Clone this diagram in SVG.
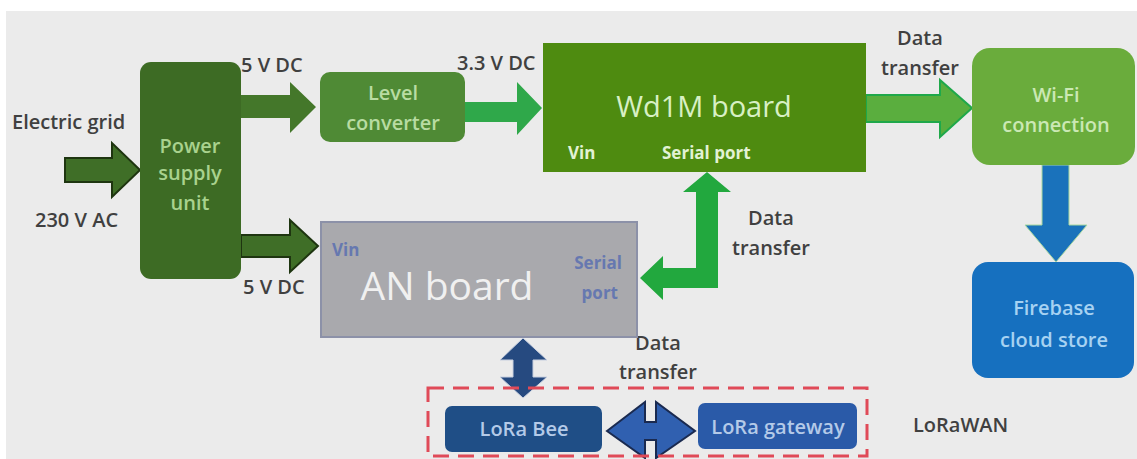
<svg xmlns="http://www.w3.org/2000/svg" width="1137" height="459" viewBox="0 0 1137 459">
  <style>
    text { font-family: "Open Sans", "Noto Sans", "DejaVu Sans", sans-serif; }
    .lbl { font-size: 20px; font-weight: 600; fill: #404040; }
    .node-txt { font-size: 20px; font-weight: 600; text-anchor: middle; }
    .port { font-size: 17px; font-weight: bold; }
  </style>
  <rect x="0" y="0" width="1137" height="459" fill="#ffffff"/>
  <rect x="6" y="11" width="1131" height="448" fill="#ebebeb"/>

  <!-- connectors -->
  <g id="connectors">
    <polygon points="65,158 112,158 112,143 140,170 112,197 112,182 65,182" fill="#3f6e27" stroke="#1e3510" stroke-width="2"/>
    <polygon points="241,95 290,95 290,82 316,107 290,133 290,118 241,118" fill="#44772a"/>
    <polygon points="241,235 290,235 290,220 318,246 290,272 290,257 241,257" fill="#3f6e27" stroke="#1e3510" stroke-width="2"/>
    <polygon points="465,102 517,102 517,82 542,108 517,135 517,122 465,122" fill="#2fa84a"/>
    <polygon points="866,95 940,95 940,80 972,108 940,137 940,122 866,122" fill="#5aae3e" stroke="#1fa84a" stroke-width="2"/>
    <polygon points="1042,165 1069,165 1069,225 1087,225 1056,262 1025,225 1042,225" fill="#1a72bb" stroke="#a8d8a0" stroke-width="1"/>
    <polygon points="707,172 731,192 718,192 718,288 663,288 663,300 640,278 663,256 663,268 696,268 696,192 683,192" fill="#22a83e"/>
    <polygon points="523,338 547,360 533,360 533,377 547,377 523,398 500,377 513,377 513,360 500,360" fill="#264a80" stroke="#c8d0e0" stroke-width="1"/>
    <polygon points="607,431 645,402 645,422 656,422 656,402 695,431 656,458 656,440 645,440 645,458" fill="#3060b0" stroke="#1a2a50" stroke-width="2"/>
  </g>

  <!-- labels -->
  <text class="lbl" x="12" y="129">Electric grid</text>
  <text class="lbl" x="35" y="227">230 V AC</text>
  <text class="lbl" x="241" y="72">5 V DC</text>
  <text class="lbl" x="243" y="294">5 V DC</text>
  <text class="lbl" x="457" y="70">3.3 V DC</text>
  <text class="lbl" x="920" y="45" text-anchor="middle">Data</text>
  <text class="lbl" x="920" y="75" text-anchor="middle">transfer</text>
  <text class="lbl" x="771" y="225" text-anchor="middle">Data</text>
  <text class="lbl" x="771" y="255" text-anchor="middle">transfer</text>
  <text class="lbl" x="658" y="350" text-anchor="middle">Data</text>
  <text class="lbl" x="658" y="379" text-anchor="middle">transfer</text>
  <text class="lbl" x="913" y="432">LoRaWAN</text>

  <g id="psu">
    <rect x="140" y="62" width="101" height="217" rx="11" fill="#3d6b24"/>
    <text class="node-txt" x="190" y="153" fill="#a9d28e">Power</text>
    <text class="node-txt" x="190" y="180" fill="#a9d28e">supply</text>
    <text class="node-txt" x="190" y="210" fill="#a9d28e">unit</text>
  </g>

  <g id="level-converter">
    <rect x="320" y="72" width="145" height="70" rx="10" fill="#4f8a35"/>
    <text class="node-txt" x="393" y="100" fill="#b8dca2">Level</text>
    <text class="node-txt" x="393" y="130" fill="#b8dca2">converter</text>
  </g>

  <g id="wd1m-board">
    <rect x="543" y="43" width="323" height="129" fill="#4e8b10"/>
    <text x="704" y="117" text-anchor="middle" font-size="29" fill="#d8f0c4">Wd1M board</text>
    <text class="port" x="568" y="159" fill="#e2f2d4">Vin</text>
    <text class="port" x="662" y="159" fill="#e2f2d4">Serial port</text>
  </g>

  <g id="wifi">
    <rect x="972" y="48" width="163" height="117" rx="18" fill="#6aac3c"/>
    <text class="node-txt" x="1056" y="102" fill="#cbe8b4">Wi-Fi</text>
    <text class="node-txt" x="1056" y="132" fill="#cbe8b4">connection</text>
  </g>

  <g id="firebase">
    <rect x="972" y="262" width="162" height="116" rx="16" fill="#1670bf"/>
    <text class="node-txt" x="1054" y="315" fill="#a6d2f2">Firebase</text>
    <text class="node-txt" x="1054" y="347" fill="#a6d2f2">cloud store</text>
  </g>

  <g id="an-board">
    <rect x="321" y="222" width="316" height="115" fill="#a9a9ad" stroke="#8c91a8" stroke-width="2"/>
    <text x="447" y="300" text-anchor="middle" font-size="39" fill="#f0f0f0">AN board</text>
    <text class="port" x="332" y="256" fill="#6678b0">Vin</text>
    <text class="port" x="622" y="269" text-anchor="end" fill="#6678b0">Serial</text>
    <text class="port" x="618" y="299" text-anchor="end" fill="#6678b0">port</text>
  </g>

  <g id="lorawan">
    <rect x="428" y="388" width="439" height="68" fill="none" stroke="#e04a58" stroke-width="3" stroke-dasharray="16 9"/>
  </g>

  <g id="lora-bee">
    <rect x="445" y="406" width="157" height="46" rx="7" fill="#1f4e86"/>
    <text class="node-txt" x="524" y="436" fill="#b4cae8">LoRa Bee</text>
  </g>

  <g id="lora-gateway">
    <rect x="698" y="403" width="159" height="46" rx="7" fill="#2a5aa8"/>
    <text class="node-txt" x="778" y="434" fill="#b4cae8">LoRa gateway</text>
  </g>
</svg>
